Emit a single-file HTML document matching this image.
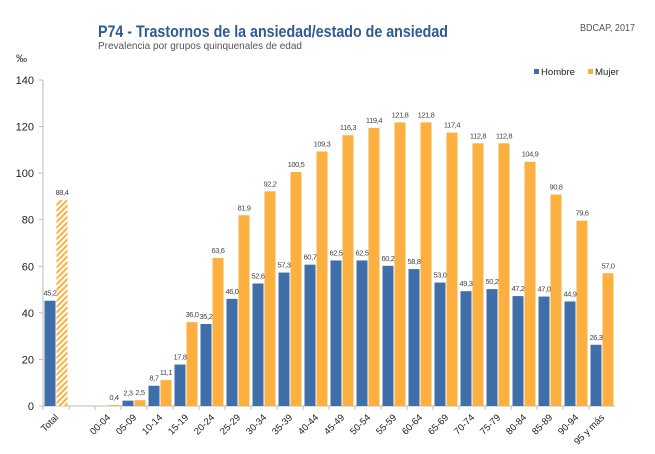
<!DOCTYPE html>
<html><head><meta charset="utf-8"><style>
body{margin:0;background:#fff;font-family:"Liberation Sans",sans-serif;}
svg{display:block}
</style></head><body>
<svg width="655" height="454">
<defs><pattern id="hatch" width="4" height="4" patternUnits="userSpaceOnUse" patternTransform="rotate(45)"><rect width="4" height="4" fill="#fff"/><rect width="2" height="4" fill="#fbb040"/></pattern></defs>
<text x="98" y="37" font-size="17" font-weight="bold" fill="#2f5b94" textLength="350" lengthAdjust="spacingAndGlyphs">P74 - Trastornos de la ansiedad/estado de ansiedad</text>
<text x="98" y="49" font-size="10.5" fill="#555" textLength="204" lengthAdjust="spacingAndGlyphs">Prevalencia por grupos quinquenales de edad</text>
<text x="580" y="31" font-size="10" fill="#555" textLength="55" lengthAdjust="spacingAndGlyphs">BDCAP, 2017</text>
<text x="16" y="62" font-size="11" fill="#333">‰</text>
<g>
<rect x="534" y="69" width="5" height="5" fill="#3f6ea9"/>
<text x="541" y="75" font-size="9" fill="#222" textLength="34" lengthAdjust="spacingAndGlyphs">Hombre</text>
<rect x="588" y="69" width="5" height="5" fill="#fbb040"/>
<text x="595" y="75" font-size="9" fill="#222" textLength="24" lengthAdjust="spacingAndGlyphs">Mujer</text>
</g>
<g id="plot"></g>
</svg>
<script>
const categories=["Total","","00-04","05-09","10-14","15-19","20-24","25-29","30-34","35-39","40-44","45-49","50-54","55-59","60-64","65-69","70-74","75-79","80-84","85-89","90-94","95 y más"];
const hombre=[45.2,null,0,2.3,8.7,17.8,35.2,46.0,52.6,57.3,60.7,62.5,62.5,60.2,58.8,53.0,49.3,50.2,47.2,47.0,44.9,26.3];
const mujer=[88.4,null,0.4,2.5,11.1,36.0,63.6,81.9,92.2,100.5,109.3,116.3,119.4,121.8,121.8,117.4,112.8,112.8,104.9,90.8,79.6,57.0];
const yTicks=[0,20,40,60,80,100,120,140];
const X0=43,W=26,Y0=406,YK=326/140;
const x=i=>X0+i*W, y=v=>Y0-v*YK;
const g=document.getElementById('plot');
const NS='http://www.w3.org/2000/svg';
function mk(t,a){const e=document.createElementNS(NS,t);for(const k in a)e.setAttribute(k,a[k]);g.appendChild(e);return e;}
const fmt=v=>v.toFixed(1).replace('.',',');
let ax=mk('line',{x1:X0,y1:y(140),x2:X0,y2:Y0,stroke:'#bbb'});


yTicks.forEach(t=>{
 const l=mk('line',{x1:X0-4,x2:X0,y1:y(t),y2:y(t),stroke:'#bbb'});
 
 
 const tx=mk('text',{x:X0-9,y:y(t)+4,'font-size':11,'text-anchor':'end',fill:'#222'});tx.textContent=t;
 
 
});
let xa=mk('line',{x1:X0,y1:Y0,x2:x(categories.length),y2:Y0,stroke:'#bbb'});


categories.forEach((c,i)=>{
 const tk=mk('line',{x1:x(i),x2:x(i),y1:Y0,y2:Y0+4,stroke:'#bbb'});
 
 
 const cx=x(i)+W/2;
 if(c){const t=mk('text',{x:cx+3,y:Y0+12,'font-size':9.5,'text-anchor':'end',fill:'#222',transform:`rotate(-45 ${cx+3} ${Y0+12})`});t.textContent=c;
 
 }
 if(hombre[i]!=null){
  const h=hombre[i];
  if(h>0){const b=mk('rect',{x:cx-11.5,y:y(h),width:11,height:h*YK,fill:'#3f6ea9'});
  
  
  const l=mk('text',{x:cx-6,y:y(h)-5,'font-size':7.5,'letter-spacing':-0.4,'text-anchor':'middle',fill:'#444'});l.textContent=fmt(h);
  
  }
 }
 if(mujer[i]!=null){
  const m=mujer[i];
  const b=mk('rect',{x:cx+0.5,y:y(m),width:11,height:Math.max(m*YK,1),fill:i===0?'url(#hatch)':'#fbb040'});
  
  
  const l=mk('text',{x:cx+6,y:y(m)-5,'font-size':7.5,'letter-spacing':-0.4,'text-anchor':'middle',fill:'#444'});l.textContent=fmt(m);
  
  
 }
});
</script>
</body></html>
